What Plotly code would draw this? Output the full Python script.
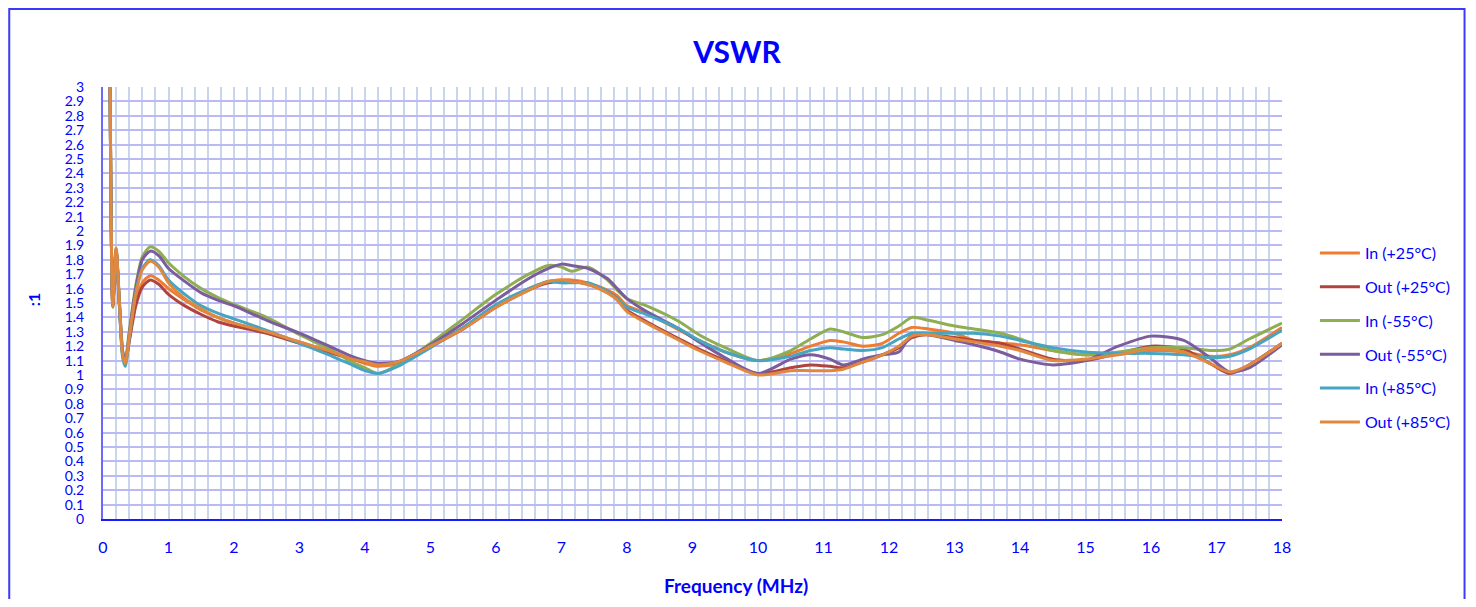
import plotly.graph_objects as go

freq = [0.10, 0.15, 0.20, 0.25, 0.30, 0.34, 0.40, 0.50, 0.60, 0.72,
        0.85, 1.0, 1.25, 1.5, 1.75, 2.0, 2.5, 3.0, 3.5, 3.8,
        4.0, 4.2, 4.5, 5.0, 5.5, 6.0, 6.5, 6.8, 7.0, 7.15,
        7.4, 7.7, 7.85, 8.0, 8.3, 8.8, 9.1, 9.5, 10.0, 10.5,
        10.8, 11.1, 11.3, 11.6, 11.9, 12.15, 12.35, 12.6, 13.0, 13.3,
        13.7, 14.0, 14.5, 15.0, 15.5, 16.0, 16.5, 16.9, 17.2, 17.5,
        18.0]

in_p25 = [3.6, 1.49, 1.87, 1.50, 1.15, 1.09, 1.24, 1.50, 1.64, 1.69,
          1.66, 1.60, 1.52, 1.45, 1.40, 1.36, 1.30, 1.23, 1.16, 1.11,
          1.08, 1.06, 1.08, 1.20, 1.33, 1.48, 1.60, 1.65, 1.66, 1.66,
          1.64, 1.59, 1.55, 1.48, 1.43, 1.31, 1.24, 1.16, 1.10, 1.15,
          1.20, 1.24, 1.23, 1.20, 1.22, 1.29, 1.33, 1.32, 1.29, 1.24,
          1.22, 1.21, 1.17, 1.14, 1.15, 1.17, 1.16, 1.13, 1.14, 1.19,
          1.33]

out_p25 = [3.6, 1.48, 1.86, 1.48, 1.14, 1.08, 1.23, 1.48, 1.61, 1.66,
           1.63, 1.56, 1.48, 1.42, 1.37, 1.34, 1.29, 1.22, 1.15, 1.11,
           1.09, 1.08, 1.09, 1.20, 1.32, 1.47, 1.59, 1.64, 1.65, 1.65,
           1.63, 1.58, 1.53, 1.45, 1.37, 1.25, 1.18, 1.10, 1.01, 1.05,
           1.07, 1.06, 1.05, 1.09, 1.14, 1.19, 1.26, 1.28, 1.26, 1.24,
           1.22, 1.18, 1.11, 1.10, 1.15, 1.20, 1.18, 1.08, 1.01, 1.07,
           1.22]

in_m55 = [3.6, 1.47, 1.88, 1.52, 1.17, 1.10, 1.30, 1.62, 1.82, 1.89,
          1.86, 1.78, 1.68, 1.60, 1.54, 1.49, 1.40, 1.28, 1.17, 1.09,
          1.05, 1.01, 1.07, 1.22, 1.39, 1.56, 1.70, 1.76, 1.75, 1.72,
          1.75, 1.66, 1.59, 1.53, 1.48, 1.37, 1.28, 1.19, 1.10, 1.17,
          1.25, 1.32, 1.30, 1.26, 1.28, 1.34, 1.40, 1.38, 1.34, 1.32,
          1.29, 1.25, 1.17, 1.14, 1.16, 1.19, 1.19, 1.17, 1.18, 1.25,
          1.36]

out_m55 = [3.6, 1.48, 1.87, 1.50, 1.16, 1.09, 1.28, 1.60, 1.80, 1.86,
           1.83, 1.74, 1.65, 1.57, 1.52, 1.48, 1.38, 1.29, 1.19, 1.13,
           1.10, 1.08, 1.09, 1.21, 1.36, 1.52, 1.67, 1.74, 1.77, 1.76,
           1.74, 1.67, 1.60, 1.53, 1.44, 1.32, 1.23, 1.12, 1.01, 1.11,
           1.14, 1.11, 1.07, 1.11, 1.14, 1.16, 1.28, 1.28, 1.24, 1.21,
           1.16, 1.11, 1.07, 1.10, 1.20, 1.27, 1.24, 1.12, 1.02, 1.05,
           1.21]

in_p85 = [3.6, 1.52, 1.87, 1.49, 1.12, 1.06, 1.25, 1.57, 1.74, 1.80,
          1.76, 1.66, 1.56, 1.48, 1.43, 1.39, 1.31, 1.22, 1.13, 1.07,
          1.03, 1.01, 1.06, 1.19, 1.33, 1.49, 1.60, 1.65, 1.64, 1.64,
          1.64, 1.58, 1.53, 1.47, 1.42, 1.32, 1.24, 1.16, 1.10, 1.13,
          1.17, 1.19, 1.18, 1.17, 1.19, 1.25, 1.29, 1.29, 1.29, 1.29,
          1.27, 1.24, 1.19, 1.16, 1.15, 1.15, 1.14, 1.12, 1.13, 1.18,
          1.31]

out_p85 = [3.6, 1.48, 1.88, 1.51, 1.14, 1.08, 1.26, 1.56, 1.73, 1.79,
           1.75, 1.64, 1.53, 1.46, 1.40, 1.36, 1.30, 1.23, 1.16, 1.11,
           1.09, 1.07, 1.09, 1.20, 1.32, 1.47, 1.59, 1.65, 1.66, 1.65,
           1.63, 1.57, 1.52, 1.44, 1.36, 1.24, 1.17, 1.09, 1.00, 1.03,
           1.03, 1.03, 1.04, 1.09, 1.14, 1.20, 1.27, 1.28, 1.25, 1.23,
           1.20, 1.17, 1.10, 1.11, 1.14, 1.18, 1.16, 1.08, 1.02, 1.07,
           1.22]

series_names = ["In (+25°C)", "Out (+25°C)", "In (-55°C)", "Out (-55°C)",
                "In (+85°C)", "Out (+85°C)"]
series_values = [in_p25, out_p25, in_m55, out_m55, in_p85, out_p85]
series_colors = ["#ED7D31", "#B0433D", "#8FAE52", "#7B5C9C", "#46A5C0", "#E0893E"]

y_ticks = [round(i * 0.1, 1) for i in range(31)]
y_ticktext = [("%g" % v) for v in y_ticks]
x_ticks = list(range(0, 19))

for v in series_values:
    assert len(v) == len(freq)

BLUE = "#0000FF"
FONT = "Lato"

# Page body has an 8px margin, so the figure is drawn 8px in from the window edge.
W, H = 1460, 591
PL, PR, PT, PB = 95, 1277, 79, 511          # plot area in figure pixels
PW, PH = PR - PL, PB - PT


def px(xs):   # window x -> paper x
    return (xs - 8 - PL) / PW


def py(ys):   # window y -> paper y
    return (PB - (ys - 8)) / PH


fig = go.Figure()
for i, (name, vals, col) in enumerate(zip(series_names, series_values, series_colors)):
    fig.add_trace(go.Scatter(
        x=freq, y=vals, mode="lines", name=name,
        line=dict(color=col, width=3, shape="spline", smoothing=0.7),
        legendgroup="g%d" % i,
    ))

fig.update_layout(
    width=W, height=H,
    paper_bgcolor="white", plot_bgcolor="white",
    margin=dict(l=PL, r=W - PR, t=PT, b=H - PB),
    font=dict(family=FONT, color=BLUE, size=16),
    title=dict(text="<b>VSWR</b>", x=(737 - 8) / W, xref="container", xanchor="center",
               y=1 - (52 - 8) / H, yref="container", yanchor="middle",
               font=dict(size=30, color=BLUE, family=FONT)),
    showlegend=True,
    legend=dict(x=px(1318), xanchor="left", y=py(236), yanchor="top",
                font=dict(size=16, color=BLUE, family=FONT),
                itemwidth=40,
                tracegroupgap=10, bgcolor="rgba(0,0,0,0)"),
    xaxis=dict(range=[0, 18], tickvals=x_ticks, ticktext=[str(t) for t in x_ticks],
               showgrid=True, gridcolor="#C9D5EC", gridwidth=2,
               minor=dict(dtick=0.2, tick0=0, showgrid=True, gridcolor="#C9D5EC", gridwidth=2),
               showline=True, linecolor="#1A1AFF", linewidth=2,
               zeroline=False, ticks="", ticklabelstandoff=13,
               tickfont=dict(size=16, color=BLUE, family=FONT)),
    yaxis=dict(range=[0, 3], tickvals=y_ticks, ticktext=y_ticktext,
               showgrid=True, gridcolor="#B9B9F4", gridwidth=2,
               showline=True, linecolor="#6A6AFF", linewidth=2,
               zeroline=False, ticks="", ticklabelstandoff=14,
               tickfont=dict(size=14, color=BLUE, family=FONT)),
)

fig.add_annotation(text="<b>Frequency (MHz)</b>", xref="paper", yref="paper",
                   x=px(738), y=py(585), showarrow=False,
                   font=dict(size=19, color=BLUE, family=FONT),
                   xanchor="center", yanchor="middle")
fig.add_annotation(text="<b>:1</b>", xref="paper", yref="paper",
                   x=px(33), y=py(300), showarrow=False,
                   textangle=-90, font=dict(size=16, color=BLUE, family=FONT),
                   xanchor="center", yanchor="middle")

fig.add_shape(type="rect", xref="paper", yref="paper",
              x0=px(9), x1=px(1468),
              y0=py(660), y1=py(9),
              line=dict(color="#3A3AFF", width=2), fillcolor="rgba(0,0,0,0)",
              layer="below")

fig.write_html("out.html")
